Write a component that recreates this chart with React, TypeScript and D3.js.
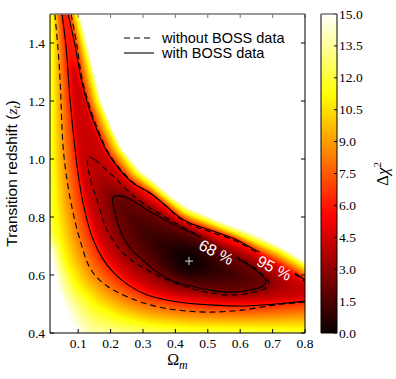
import React, { useMemo } from 'react'
import * as d3 from 'd3'

type Pt = [number, number]

// contours, [Omega_m, z_t]
// solid = with BOSS data (68 % inner loop, 95 % two branches)
const withBossLow: Pt[] = [
  [0.050, 1.500], [0.062, 1.393], [0.075, 1.203], [0.087, 1.066], [0.099, 0.955],
  [0.115, 0.848], [0.143, 0.731], [0.174, 0.659], [0.208, 0.610], [0.254, 0.566],
  [0.313, 0.531], [0.408, 0.507], [0.507, 0.497], [0.615, 0.493], [0.708, 0.500],
  [0.800, 0.510],
]
const withBossHigh: Pt[] = [
  [0.069, 1.500], [0.090, 1.393], [0.109, 1.276], [0.130, 1.186], [0.158, 1.100],
  [0.189, 1.024], [0.229, 0.962], [0.269, 0.917], [0.322, 0.883], [0.368, 0.841],
  [0.408, 0.803], [0.445, 0.779], [0.507, 0.755], [0.584, 0.724], [0.646, 0.686],
  [0.708, 0.648], [0.760, 0.614], [0.800, 0.583],
]
const withBossInner: Pt[] = [
  [0.208, 0.869], [0.238, 0.872], [0.276, 0.852], [0.313, 0.824], [0.353, 0.800],
  [0.399, 0.772], [0.445, 0.748], [0.492, 0.721], [0.538, 0.693], [0.584, 0.662],
  [0.631, 0.631], [0.662, 0.603], [0.680, 0.579], [0.671, 0.562], [0.631, 0.548],
  [0.569, 0.541], [0.507, 0.548], [0.445, 0.562], [0.399, 0.576], [0.353, 0.603],
  [0.306, 0.645], [0.266, 0.686], [0.235, 0.738], [0.217, 0.800], [0.208, 0.841],
]
// dashed = without BOSS data
const withoutBossLow: Pt[] = [
  [0.028, 1.500], [0.038, 1.376], [0.044, 1.276], [0.053, 1.048], [0.062, 0.955],
  [0.078, 0.848], [0.103, 0.731], [0.140, 0.617], [0.189, 0.562], [0.276, 0.514],
  [0.347, 0.490], [0.408, 0.479], [0.501, 0.472], [0.606, 0.479], [0.708, 0.497],
  [0.800, 0.507],
]
const withoutBossHigh: Pt[] = [
  [0.078, 1.500], [0.096, 1.393], [0.112, 1.276], [0.134, 1.186], [0.161, 1.100],
  [0.192, 1.024], [0.232, 0.962], [0.272, 0.917], [0.325, 0.879], [0.371, 0.838],
  [0.411, 0.797], [0.448, 0.772], [0.510, 0.748], [0.587, 0.717], [0.649, 0.679],
  [0.711, 0.641], [0.763, 0.607], [0.800, 0.576],
]
const withoutBossInner: Pt[] = [
  [0.130, 1.007], [0.152, 0.997], [0.180, 0.969], [0.214, 0.934], [0.251, 0.893],
  [0.291, 0.855], [0.337, 0.821], [0.390, 0.786], [0.445, 0.752], [0.507, 0.717],
  [0.569, 0.676], [0.631, 0.634], [0.671, 0.600], [0.689, 0.572], [0.674, 0.552],
  [0.631, 0.538], [0.569, 0.531], [0.507, 0.538], [0.445, 0.555], [0.384, 0.579],
  [0.313, 0.617], [0.245, 0.669], [0.192, 0.748], [0.158, 0.859], [0.137, 0.934],
]

// extra iso-lines of the colour map, used to fill the Δχ² image
const darkCore: Pt[] = [ // Δχ² ≈ 4.5
  [0.087, 1.307], [0.115, 1.203], [0.143, 1.107], [0.174, 1.031], [0.208, 0.972],
  [0.248, 0.921], [0.291, 0.879], [0.353, 0.831], [0.415, 0.783], [0.476, 0.752],
  [0.553, 0.710], [0.631, 0.676], [0.708, 0.631], [0.770, 0.583], [0.816, 0.562],
  [0.816, 0.528], [0.754, 0.521], [0.662, 0.514], [0.569, 0.514], [0.476, 0.521],
  [0.399, 0.531], [0.322, 0.555], [0.260, 0.597], [0.214, 0.645], [0.177, 0.703],
  [0.149, 0.783], [0.127, 0.876], [0.109, 0.979], [0.096, 1.100], [0.090, 1.203],
  [0.087, 1.272],
]
const yellowUpper: Pt[] = [ // Δχ² ≈ 11.2
  [0.093, 1.500], [0.124, 1.359], [0.158, 1.203], [0.195, 1.100], [0.226, 1.031],
  [0.276, 0.955], [0.328, 0.907], [0.377, 0.862], [0.430, 0.817], [0.513, 0.779],
  [0.631, 0.724], [0.723, 0.679], [0.800, 0.628],
]
const yellowLower: Pt[] = [
  [0.022, 1.500], [0.022, 1.031], [0.028, 0.859], [0.041, 0.738], [0.062, 0.645],
  [0.099, 0.559], [0.152, 0.497], [0.229, 0.452], [0.322, 0.428], [0.445, 0.417],
  [0.800, 0.414],
]
const whiteUpper: Pt[] = [ // Δχ² = 15
  [0.106, 1.500], [0.137, 1.359], [0.171, 1.203], [0.208, 1.100], [0.238, 1.031],
  [0.291, 0.962], [0.343, 0.917], [0.390, 0.869], [0.445, 0.831], [0.523, 0.793],
  [0.637, 0.745], [0.723, 0.700], [0.800, 0.648],
]
const whiteLower: Pt[] = [
  [0.013, 0.686], [0.038, 0.548], [0.069, 0.462], [0.096, 0.400], [0.120, 0.360],
]
const bestFit: Pt = [0.442, 0.648]

const levelInner = 2.3
const levelCore = 4.5
const levelOuter = 6.17
const levelYellow = 11.2
const levelWhite = 15

const xTicks = [0.1, 0.2, 0.3, 0.4, 0.5, 0.6, 0.7, 0.8]
const yTicks = [0.4, 0.6, 0.8, 1.0, 1.2, 1.4]
const cbTicks = [0, 1.5, 3, 4.5, 6, 7.5, 9, 10.5, 12, 13.5, 15]
const contourLabels = [
  { text: '68 %', at: [0.526, 0.679] as Pt },
  { text: '95 %', at: [0.705, 0.624] as Pt },
]
const legendItems = [
  { text: 'without BOSS data', dash: '6,4' },
  { text: 'with BOSS data', dash: null },
]

const W = 396
const H = 379
const L = 50, R = 305, T = 14, B = 333
const serif = '"Liberation Serif", "DejaVu Serif", "Times New Roman", serif'
const sans = '"Liberation Sans", Arial, sans-serif'

const last = (a: Pt[]) => a[a.length - 1]

function hot(t: number) {
  const c = Math.max(0, Math.min(1, t))
  const r = Math.min(1, 0.0416 + (1 - 0.0416) * c / 0.365079)
  const g = Math.max(0, Math.min(1, (c - 0.365079) / 0.380953))
  const b = Math.max(0, Math.min(1, (c - 0.746032) / 0.253968))
  return [r * 255, g * 255, b * 255]
}

function inside(p: number[][], x: number, y: number) {
  let c = false
  for (let i = 0, j = p.length - 1; i < p.length; j = i++) {
    const xi = p[i][0], yi = p[i][1], xj = p[j][0], yj = p[j][1]
    if ((yi > y) !== (yj > y) && x < (xj - xi) * (y - yi) / (yj - yi) + xi) c = !c
  }
  return c
}

function edgeDist(p: number[][], x: number, y: number) {
  let best = Infinity
  for (let i = 0, j = p.length - 1; i < p.length; j = i++) {
    const ax = p[j][0], ay = p[j][1]
    const dx = p[i][0] - ax, dy = p[i][1] - ay
    const l = dx * dx + dy * dy
    let t = l ? ((x - ax) * dx + (y - ay) * dy) / l : 0
    t = t < 0 ? 0 : t > 1 ? 1 : t
    const ex = ax + t * dx - x, ey = ay + t * dy - y
    const d = ex * ex + ey * ey
    if (d < best) best = d
  }
  return Math.sqrt(best)
}

function buildImage(xs: d3.ScaleLinear<number, number>, ys: d3.ScaleLinear<number, number>) {
  const px = (pts: Pt[]) => pts.map(d => [xs(d[0]), ys(d[1])])
  const outer = px([...withBossLow, [0.9, last(withBossLow)[1]], [0.9, last(withBossHigh)[1]],
    ...withBossHigh.slice().reverse(), [withBossHigh[0][0], 1.7], [withBossLow[0][0], 1.7]])
  const yellow = px([...yellowUpper, [0.9, last(yellowUpper)[1]], [0.9, last(yellowLower)[1]],
    ...yellowLower.slice().reverse(), [yellowLower[0][0], 1.7], [yellowUpper[0][0], 1.7]])
  const white = px([...whiteUpper, [0.9, last(whiteUpper)[1]], [0.9, last(whiteLower)[1]],
    ...whiteLower.slice().reverse(), [-0.05, whiteLower[0][1]], [-0.05, 1.7], [whiteUpper[0][0], 1.7]])
  const core = px(darkCore)
  const inner = px(withBossInner)
  const mx = xs(bestFit[0]), my = ys(bestFit[1])

  const w = R - L, h = B - T
  const canvas = document.createElement('canvas')
  canvas.width = w
  canvas.height = h
  const ctx = canvas.getContext('2d')!
  const img = ctx.createImageData(w, h)
  const mix = (lo: number, hi: number, a: number, b: number) => lo + (hi - lo) * a / (a + b || 1)
  for (let j = 0; j < h; j++) {
    for (let i = 0; i < w; i++) {
      const x = L + i + 0.5, y = T + j + 0.5
      let v: number
      if (!inside(white, x, y)) v = levelWhite
      else if (!inside(yellow, x, y)) v = mix(levelYellow, levelWhite, edgeDist(yellow, x, y), edgeDist(white, x, y))
      else if (!inside(outer, x, y)) v = mix(levelOuter, levelYellow, edgeDist(outer, x, y), edgeDist(yellow, x, y))
      else if (!inside(core, x, y)) v = mix(levelCore, levelOuter, edgeDist(core, x, y), edgeDist(outer, x, y))
      else if (!inside(inner, x, y)) v = mix(levelInner, levelCore, edgeDist(inner, x, y), edgeDist(core, x, y))
      else {
        const a = Math.hypot(x - mx, y - my), b = edgeDist(inner, x, y)
        const f = a / (a + b || 1)
        v = levelInner * f * f
      }
      const [r, g, bl] = hot(v / levelWhite)
      const k = (j * w + i) * 4
      img.data[k] = r
      img.data[k + 1] = g
      img.data[k + 2] = bl
      img.data[k + 3] = 255
    }
  }
  ctx.putImageData(img, 0, 0)
  return canvas.toDataURL()
}

export default function App() {
  const xScale = d3.scaleLinear().domain([0.013, 0.8]).range([L, R])
  const yScale = d3.scaleLinear().domain([0.4, 1.5]).range([B, T])
  const cScale = d3.scaleLinear().domain([0, 15]).range([B, T])

  const href = useMemo(() => buildImage(xScale, yScale), [])

  const open = d3.line<Pt>().x(d => xScale(d[0])).y(d => yScale(d[1])).curve(d3.curveCatmullRom.alpha(0.5))
  const closed = d3.line<Pt>().x(d => xScale(d[0])).y(d => yScale(d[1])).curve(d3.curveCatmullRomClosed.alpha(0.5))

  const stops = d3.range(0, 1.0001, 0.02)
  const cbX = 321, cbW = 16

  return (
    <div style={{ position: 'absolute', left: 0, top: 0 }}>
      <svg width={W} height={H} style={{ display: 'block', background: '#fff' }}>
        <defs>
          <clipPath id="plotClip">
            <rect x={L} y={T} width={R - L} height={B - T} />
          </clipPath>
          <linearGradient id="hotGrad" x1="0" y1="1" x2="0" y2="0">
            {stops.map(t => {
              const [r, g, b] = hot(t)
              return <stop key={t} offset={t} stopColor={`rgb(${r | 0},${g | 0},${b | 0})`} />
            })}
          </linearGradient>
          <mask id="labelGaps" maskUnits="userSpaceOnUse" x={0} y={0} width={W} height={H}>
            <rect width={W} height={H} fill="#fff" />
            {contourLabels.map(l => (
              <rect key={l.text} x={-21} y={-8} width={42} height={16} fill="#000"
                transform={`translate(${xScale(l.at[0])},${yScale(l.at[1])}) rotate(27)`} />
            ))}
          </mask>
        </defs>

        <image href={href} x={L} y={T} width={R - L} height={B - T} preserveAspectRatio="none" />

        <g clipPath="url(#plotClip)" fill="none" stroke="#000">
          <g mask="url(#labelGaps)">
            <g strokeDasharray="6,4" strokeWidth={1.1}>
              <path d={open(withoutBossLow)!} />
              <path d={open(withoutBossHigh)!} />
              <path d={closed(withoutBossInner)!} />
            </g>
            <g strokeWidth={1.1}>
              <path d={open(withBossLow)!} />
              <path d={open(withBossHigh)!} />
              <path d={closed(withBossInner)!} />
            </g>
          </g>
          <g stroke="#d8d8d8" strokeWidth={1}>
            <line x1={xScale(bestFit[0]) - 4} x2={xScale(bestFit[0]) + 4} y1={yScale(bestFit[1])} y2={yScale(bestFit[1])} />
            <line x1={xScale(bestFit[0])} x2={xScale(bestFit[0])} y1={yScale(bestFit[1]) - 4} y2={yScale(bestFit[1]) + 4} />
          </g>
        </g>

        {contourLabels.map(l => (
          <text key={l.text} fill="#fff" fontFamily={sans} fontSize={16} textAnchor="middle" dy="0.35em"
            transform={`translate(${xScale(l.at[0])},${yScale(l.at[1])}) rotate(27)`}>{l.text}</text>
        ))}

        {/* legend */}
        {legendItems.map((d, i) => (
          <g key={d.text} transform={`translate(124,${38 + i * 15})`}>
            <line x1={0} x2={30} y1={0} y2={0} stroke="#000" strokeWidth={1.1} strokeDasharray={d.dash || undefined} />
            <text x={38} y={5} fontFamily={sans} fontSize={14.5} fill="#000">{d.text}</text>
          </g>
        ))}

        {/* frame and ticks */}
        <g stroke="#000" strokeWidth={1}>
          {xTicks.map(t => (
            <g key={t}>
              <line x1={xScale(t)} x2={xScale(t)} y1={B} y2={B - 4} />
              <line x1={xScale(t)} x2={xScale(t)} y1={T} y2={T + 4} stroke="#777" />
            </g>
          ))}
          {yTicks.map(t => (
            <g key={t}>
              <line x1={L} x2={L + 4} y1={yScale(t)} y2={yScale(t)} />
              <line x1={R} x2={R - 4} y1={yScale(t)} y2={yScale(t)} />
            </g>
          ))}
          <line x1={L} x2={L} y1={T} y2={B} />
          <line x1={R} x2={R} y1={T} y2={B} />
          <line x1={L} x2={R} y1={B} y2={B} />
          <line x1={L} x2={R} y1={T} y2={T} stroke="#777" strokeWidth={1.5} />
        </g>

        <g fontFamily={serif} fontSize={13.5} fill="#000">
          {xTicks.map(t => (
            <text key={t} x={xScale(t)} y={B + 15} textAnchor="middle">{t.toFixed(1)}</text>
          ))}
          {yTicks.map(t => (
            <text key={t} x={L - 5} y={yScale(t) + 4.5} textAnchor="end">{t.toFixed(1)}</text>
          ))}
        </g>

        <text x={(L + R) / 2} y={365} textAnchor="middle" fontFamily={serif} fontSize={16}>
          Ω<tspan fontStyle="italic" fontSize={12} dy={4}>m</tspan>
        </text>
        <text transform={`translate(17,${(T + B) / 2}) rotate(-90)`} textAnchor="middle" fontFamily={sans} fontSize={15.5}>
          Transition redshift (<tspan fontFamily={serif} fontStyle="italic">z</tspan>
          <tspan fontFamily={serif} fontStyle="italic" fontSize={11} dy={3}>t</tspan>
          <tspan dy={-3}>)</tspan>
        </text>

        {/* colour bar */}
        <rect x={cbX} y={T} width={cbW} height={B - T} fill="url(#hotGrad)" />
        <g stroke="#000" strokeWidth={1}>
          {cbTicks.map(t => (
            <line key={t} x1={cbX + cbW} x2={cbX + cbW - 3} y1={cScale(t)} y2={cScale(t)} />
          ))}
          <line x1={cbX} x2={cbX} y1={T} y2={B} />
          <line x1={cbX + cbW} x2={cbX + cbW} y1={T} y2={B} />
          <line x1={cbX} x2={cbX + cbW} y1={B} y2={B} />
          <line x1={cbX} x2={cbX + cbW} y1={T} y2={T} stroke="#777" strokeWidth={1.5} />
        </g>
        <g fontFamily={serif} fontSize={13.5}>
          {cbTicks.map(t => (
            <text key={t} x={cbX + cbW + 2} y={cScale(t) + 4.5}>{t.toFixed(1)}</text>
          ))}
        </g>
        <text transform={`translate(388,174) rotate(-90)`} textAnchor="middle" fontFamily={serif} fontSize={17}>
          Δ<tspan fontStyle="italic">χ</tspan><tspan fontSize={11} dy={-7}>2</tspan>
        </text>
      </svg>
    </div>
  )
}
